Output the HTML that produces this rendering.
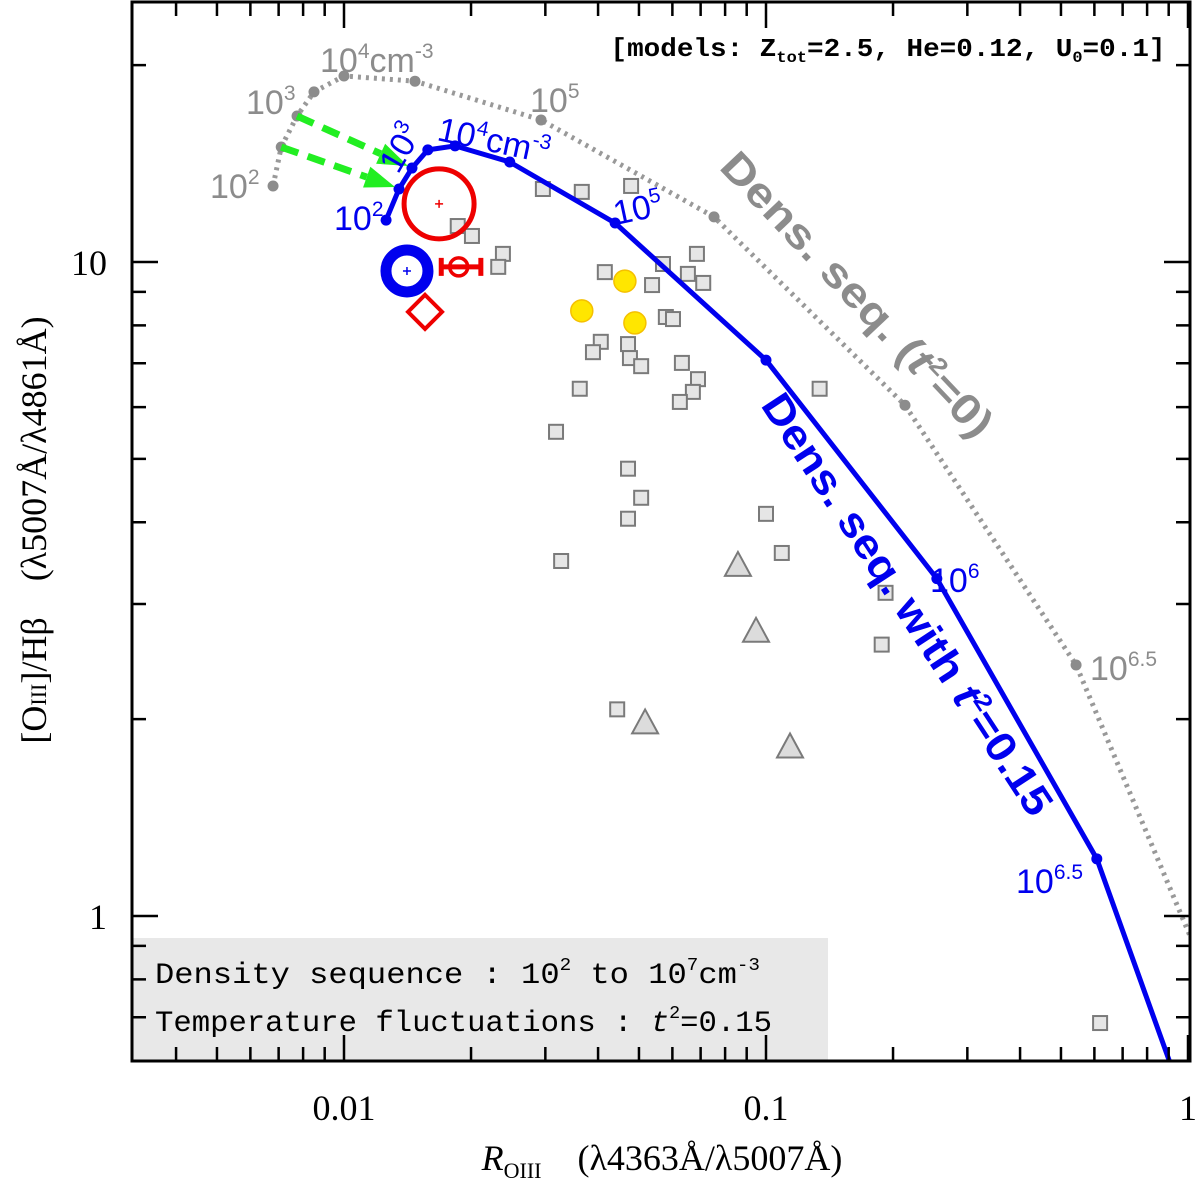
<!DOCTYPE html>
<html><head><meta charset="utf-8"><style>
html,body{margin:0;padding:0;background:#fff;}
svg{display:block;font-family:"Liberation Mono",monospace;}
</style></head><body>
<svg id="chart" width="1200" height="1183" viewBox="0 0 1200 1183">
<defs><clipPath id="clip"><rect x="132" y="2" width="1058" height="1059"/></clipPath></defs>
<rect x="132" y="938" width="696" height="123" fill="#e8e8e8"/>
<g id="plot" clip-path="url(#clip)"></g>
<g id="axes"></g>
<g id="labels"></g>
<text x="888" y="56" text-anchor="middle" font-size="26" font-weight="bold" textLength="555" lengthAdjust="spacingAndGlyphs">[models: Z<tspan font-size="16" dy="6">tot</tspan><tspan dy="-6">=2.5, He=0.12, U</tspan><tspan font-size="16" dy="6">0</tspan><tspan dy="-6">=0.1]</tspan></text>
<text x="155" y="983" font-size="30" textLength="605" lengthAdjust="spacingAndGlyphs">Density sequence : 10<tspan font-size="18" dy="-13">2</tspan><tspan dy="13"> to 10</tspan><tspan font-size="18" dy="-13">7</tspan><tspan dy="13">cm</tspan><tspan font-size="18" dy="-13">-3</tspan></text>
<text x="155" y="1031" font-size="30" textLength="617" lengthAdjust="spacingAndGlyphs">Temperature fluctuations : <tspan font-style="italic">t</tspan><tspan font-size="18" dy="-13">2</tspan><tspan dy="13">=0.15</tspan></text>
<text x="662" y="1170" text-anchor="middle" font-size="36" font-family="Liberation Serif,serif"><tspan font-style="italic">R</tspan><tspan font-size="22" dy="8">OIII</tspan><tspan dy="-8">&#160;&#160;&#160;&#160;(λ4363Å/λ5007Å)</tspan></text>
<text transform="translate(46,530) rotate(-90)" text-anchor="middle" font-size="36" font-family="Liberation Serif,serif">[O<tspan font-size="22">III</tspan>]/Hβ&#160;&#160;&#160;&#160;(λ5007Å/λ4861Å)</text>
<g transform="translate(718,168) rotate(46.6)"><text font-size="42" font-weight="bold" font-family="Liberation Sans,sans-serif" fill="#8c8c8c" textLength="375" lengthAdjust="spacingAndGlyphs">Dens. seq. (<tspan font-style="italic">t</tspan><tspan font-size="24" dy="-16">2</tspan><tspan dy="16">=0)</tspan></text></g>
<g transform="translate(760,405) rotate(56.8)"><text font-size="42" font-weight="bold" font-family="Liberation Sans,sans-serif" fill="#0000ee" textLength="495" lengthAdjust="spacingAndGlyphs">Dens. seq. with <tspan font-style="italic">t</tspan><tspan font-size="24" dy="-16">2</tspan><tspan dy="16">=0.15</tspan></text></g>
</svg>
<script>
const grayX=[0.00679,0.0071,0.00774,0.00849,0.0100,0.01473,0.0293,0.0753,0.2135,0.543,1.05];
const grayY=[13.07,14.99,16.72,18.2,19.25,18.9,16.49,11.72,6.04,2.42,0.88];
const blueX=[0.01258,0.0135,0.01449,0.0158,0.01833,0.0247,0.0439,0.1,0.254,0.608,1.0];
const blueY=[11.59,12.93,13.92,14.84,15.05,14.22,11.47,7.08,3.28,1.223,0.5];
const sqX=[0.0296,0.0366,0.0479,0.0186,0.0201,0.0238,0.0232,0.0415,0.0537,0.0570,0.0686,0.0653,0.0710,0.0579,0.0602,0.0406,0.0389,0.0471,0.0476,0.0506,0.0632,0.0690,0.0671,0.0625,0.0362,0.134,0.0318,0.0471,0.0506,0.0471,0.1,0.0327,0.109,0.192,0.188,0.0444,0.619];
const sqY=[12.93,12.8,13.07,11.35,10.96,10.29,9.83,9.65,9.22,9.93,10.29,9.59,9.29,8.24,8.18,7.55,7.28,7.49,7.13,6.93,7.01,6.62,6.33,6.11,6.40,6.40,5.50,4.83,4.36,4.05,4.12,3.49,3.59,3.12,2.60,2.07,0.686];
const ylX=[0.0463,0.0366,0.0489];
const ylY=[9.35,8.42,8.07];
const triX=[0.0858,0.0947,0.0517,0.114];
const triY=[3.43,2.72,1.97,1.81];
const redCircle=[0.0168,12.27];
const blueRing=[0.0141,9.69];
const redErr=[0.0187,9.83,0.0170,0.0211];
const redDiamond=[0.01556,8.39];
const xMajor=[0.01,0.1,1];
const xMajorLabels=["0.01","0.1","1"];
const yMajor=[1,10];
const yMajorLabels=["1","10"];

const X=v=>344+422*Math.log10(v/0.01);
const Y=v=>262-654*Math.log10(v/10);
const NS="http://www.w3.org/2000/svg";
function mk(parent,tag,attrs){const e=document.createElementNS(NS,tag);for(const k in attrs)e.setAttribute(k,attrs[k]);parent.appendChild(e);return e;}
const plot=document.getElementById('plot'),axes=document.getElementById('axes');

let p=mk(plot,'polyline',{points:grayX.map((x,i)=>X(x)+','+Y(grayY[i])).join(' '),fill:'none',stroke:'#999','stroke-width':5,'stroke-dasharray':'3,5'});


for(let i=0;i<grayX.length-1;i++){const c=mk(plot,'circle',{cx:X(grayX[i]),cy:Y(grayY[i]),r:5.5,fill:'#8c8c8c'});

}

sqX.forEach((x,i)=>{const r=mk(plot,'rect',{x:X(x)-7,y:Y(sqY[i])-7,width:14,height:14,fill:'#e6e6e6',stroke:'#7a7a7a','stroke-width':2});

});
triX.forEach((x,i)=>{const cx=X(x),cy=Y(triY[i]);const t=mk(plot,'polygon',{points:`${cx},${cy-14} ${cx+13},${cy+10} ${cx-13},${cy+10}`,fill:'#dcdcdc',stroke:'#7a7a7a','stroke-width':2});

});
ylX.forEach((x,i)=>{const c=mk(plot,'circle',{cx:X(x),cy:Y(ylY[i]),r:11,fill:'#ffe600',stroke:'#f5c000','stroke-width':1.5});

});

p=mk(plot,'polyline',{points:blueX.map((x,i)=>X(x)+','+Y(blueY[i])).join(' '),fill:'none',stroke:'#0000ee','stroke-width':5});


for(let i=0;i<blueX.length-1;i++){const c=mk(plot,'circle',{cx:X(blueX[i]),cy:Y(blueY[i]),r:5.5,fill:'#0000ee'});

}

[[1,1],[2,2]].forEach(([gi,bi])=>{
 const x1=X(grayX[gi]),y1=Y(grayY[gi]),x2=X(blueX[bi])-4,y2=Y(blueY[bi])-2;
 const a=Math.atan2(y2-y1,x2-x1),L=30;
 const bx=x2-L*Math.cos(a),by=y2-L*Math.sin(a);
 const l=mk(plot,'line',{x1,y1,x2:bx,y2:by,stroke:'#22ee22','stroke-width':7,'stroke-dasharray':'18,10'});
 
 
 const w=11,nx=-Math.sin(a)*w,ny=Math.cos(a)*w;
 const h=mk(plot,'polygon',{points:`${x2},${y2} ${bx+nx},${by+ny} ${bx-nx},${by-ny}`,fill:'#22ee22'});
 
 
});

let cx=X(redCircle[0]),cy=Y(redCircle[1]);
let e=mk(plot,'circle',{cx,cy,r:35,fill:'none',stroke:'#ee0000','stroke-width':5});


mk(plot,'path',{d:`M${cx-4},${cy}h8M${cx},${cy-4}v8`,stroke:'#ee0000','stroke-width':1.5});
cx=X(blueRing[0]);cy=Y(blueRing[1]);
e=mk(plot,'circle',{cx,cy,r:21,fill:'none',stroke:'#0000ee','stroke-width':11});


mk(plot,'path',{d:`M${cx-4},${cy}h8M${cx},${cy-4}v8`,stroke:'#0000ee','stroke-width':1.5});
cx=X(redErr[0]);cy=Y(redErr[1]);
const xl=X(redErr[2]),xh=X(redErr[3]);
e=mk(plot,'path',{d:`M${xl},${cy}H${xh}M${xl},${cy-9}v18M${xh},${cy-9}v18`,stroke:'#ee0000','stroke-width':5,fill:'none'});


e=mk(plot,'circle',{cx,cy,r:9,fill:'none',stroke:'#ee0000','stroke-width':3.5});


cx=X(redDiamond[0]);cy=Y(redDiamond[1]);
e=mk(plot,'polygon',{points:`${cx},${cy-17} ${cx+17},${cy} ${cx},${cy+17} ${cx-17},${cy}`,fill:'none',stroke:'#ee0000','stroke-width':4});



e=mk(axes,'rect',{x:132,y:2,width:1058,height:1059,fill:'none',stroke:'#000','stroke-width':3});


let d='';
for(let dec=-3;dec<=0;dec++)for(let m=1;m<=9;m++){const v=m*Math.pow(10,dec);const px=X(v);if(px<133||px>1189)continue;const L=m===1?26:14;d+=`M${px},1061v-${L}M${px},2v${L}`;}
for(let dec=-1;dec<=1;dec++)for(let m=1;m<=9;m++){const v=m*Math.pow(10,dec);const py=Y(v);if(py<3||py>1060)continue;const L=m===1?26:14;d+=`M132,${py}h${L}M1190,${py}h-${L}`;}
e=mk(axes,'path',{d,stroke:'#000','stroke-width':2.5,fill:'none'});


xMajor.forEach((v,i)=>{const t=mk(axes,'text',{x:X(v),y:1120,'text-anchor':'middle','font-size':36,'font-family':'Liberation Serif,serif'});t.textContent=xMajorLabels[i];

});
yMajor.forEach((v,i)=>{const t=mk(axes,'text',{x:107,y:Y(v)+13,'text-anchor':'end','font-size':36,'font-family':'Liberation Serif,serif'});t.textContent=yMajorLabels[i];

});

const lab=document.getElementById('labels');
function dl(x,y,base,sup,unit,color,rot,name){
 const g=mk(lab,'g',{transform:`translate(${x},${y}) rotate(${rot||0})`});
 const t=mk(g,'text',{'font-size':34,'font-family':'Liberation Sans,sans-serif',fill:color});
 t.innerHTML=`${base}<tspan font-size="21" dy="-14">${sup}</tspan>`+(unit?`<tspan dy="14">cm</tspan><tspan font-size="21" dy="-14">-3</tspan>`:'');
 
 
}
dl(210,198,'10','2',false,'#8c8c8c',0,'gray-label-1e2');
dl(246,114,'10','3',false,'#8c8c8c',0,'gray-label-1e3');
dl(320,72,'10','4',true,'#8c8c8c',0,'gray-label-1e4');
dl(530,112,'10','5',false,'#8c8c8c',0,'gray-label-1e5');
dl(1090,680,'10','6.5',false,'#8c8c8c',0,'gray-label-1e6-5');
dl(334,230,'10','2',false,'#0000ee',0,'blue-label-1e2');
dl(398,175,'10','3',false,'#0000ee',-60,'blue-label-1e3');
dl(436,140,'10','4',true,'#0000ee',12,'blue-label-1e4');
dl(616,225,'10','5',false,'#0000ee',-12,'blue-label-1e5');
dl(930,592,'10','6',false,'#0000ee',0,'blue-label-1e6');
dl(1016,893,'10','6.5',false,'#0000ee',0,'blue-label-1e6-5');
</script>
</body></html>
